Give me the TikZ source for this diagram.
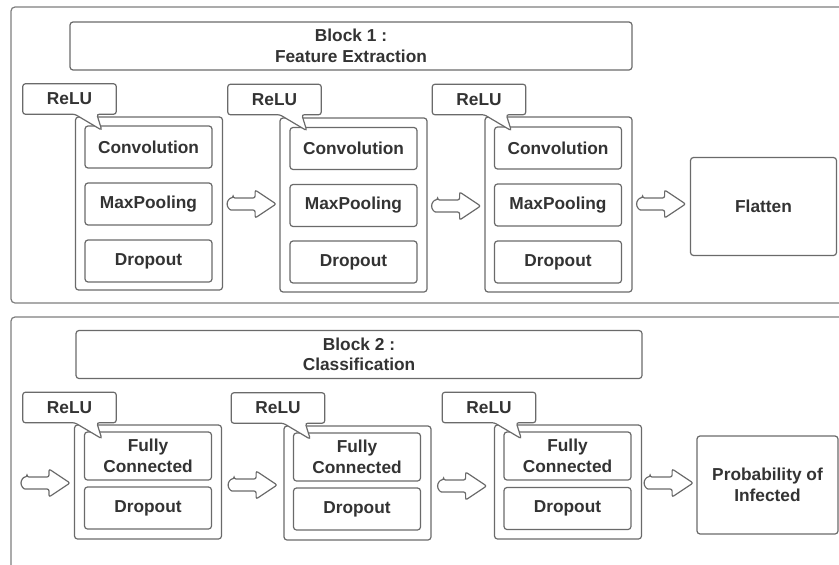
\documentclass[tikz,border=0pt]{standalone}
\usepackage{fontspec}
\setmainfont{Liberation Sans}
\usetikzlibrary{calc}
\definecolor{linegray}{HTML}{6A6A6A}
\definecolor{framegray}{HTML}{7E7E7E}
\definecolor{textgray}{HTML}{333333}
\tikzset{
  labelfont/.style={font=\fontsize{17.3}{20.5}\selectfont\bfseries, text=textgray},
  base/.style={draw=linegray, line width=1.2pt, rounded corners=3pt, fill=white,
    labelfont, align=center, inner sep=0pt},
  frame/.style={draw=framegray, line width=1.2pt, rounded corners=4pt},
  titlebox/.style={base, minimum width=#1, minimum height=48},
  layer/.style={base, minimum width=127, minimum height=42},
  fclayer/.style={base, minimum width=127, minimum height=48},
  stackbox/.style={base, minimum width=147},
  endbox/.style={base, minimum width=146, minimum height=98},
  relubox/.style={labelfont, minimum width=93, minimum height=30, inner sep=0pt},
  callout/.style={draw=linegray, line width=1.2pt, rounded corners=2.5pt, fill=white},
  barrow/.style={draw=linegray, line width=1.2pt, fill=white, rounded corners=2pt},
}
% ReLU speech bubble: box with a tail pointing down-right
\newcommand\relucallout[2]{%
  \node[relubox] (#1) at #2 {};
  \draw[callout] (#1.north west) -- (#1.north east) -- (#1.south east)
    -- ($(#1.south west)+(74,0)$) -- ($(#1.south west)+(79,16)$)
    -- ($(#1.south west)+(52,0)$) -- (#1.south west) -- cycle;
  \node[relubox] at (#1) {ReLU};
}
% hollow block arrow with a rounded tail, tail at (#1), total length 48
\newcommand\blockarrow[1]{%
  \draw[barrow] ($#1+(5,-6)$) -- ($#1+(27,-6)$) -- ($#1+(27,-14)$)
    -- ($#1+(48,0)$) -- ($#1+(27,14)$) -- ($#1+(27,6)$) -- ($#1+(5,6)$)
    arc[start angle=90, end angle=270, radius=6] -- cycle;
}
\begin{document}
\begin{tikzpicture}[x=1pt,y=-1pt]
\useasboundingbox (0,0) rectangle (839,565);
\clip (0,0) rectangle (839,565);
\fill[white] (0,0) rectangle (839,565);

% ---------- Block 1 ----------
\draw[frame] (11,7) rectangle (860,303);
\node[titlebox=562] (t1) at (351,46) {Block 1 :\\Feature Extraction};

\node[stackbox, minimum height=173] (s1) at (149,203.5) {};
\node[stackbox, minimum height=174] (s2) at (353.5,205) {};
\node[stackbox, minimum height=175] (s3) at (558.5,204.5) {};

\node[layer] (c1) at (148.5,147) {Convolution};
\node[layer] (m1) at (148.5,204) {MaxPooling};
\node[layer] (d1) at (148.5,261) {Dropout};
\node[layer] (c2) at (353.5,148.5) {Convolution};
\node[layer] (m2) at (353.5,205.5) {MaxPooling};
\node[layer] (d2) at (353.5,262) {Dropout};
\node[layer] (c3) at (558,148) {Convolution};
\node[layer] (m3) at (558,205) {MaxPooling};
\node[layer] (d3) at (558,262) {Dropout};

\node[endbox] (fl) at (763.5,206.5) {Flatten};

\relucallout{r1}{(69.5,99)}
\relucallout{r2}{(274.5,99.5)}
\relucallout{r3}{(479,99.5)}

\blockarrow{($(s1.east)+(5,0.5)$)}
\blockarrow{($(s2.east)+(5,1)$)}
\blockarrow{($(s3.east)+(5,-0.5)$)}

% ---------- Block 2 ----------
\draw[frame] (11,317) rectangle (860,600);
\node[titlebox=566] (t2) at (359,354.5) {Block 2 :\\Classification};

\node[stackbox, minimum height=114] (u1) at (148,482) {};
\node[stackbox, minimum height=114] (u2) at (357.5,483) {};
\node[stackbox, minimum height=114] (u3) at (568,482) {};

\node[fclayer] (f1) at (148,456) {Fully\\Connected};
\node[layer] (e1) at (148,508) {Dropout};
\node[fclayer] (f2) at (357,457) {Fully\\Connected};
\node[layer] (e2) at (357,509) {Dropout};
\node[fclayer] (f3) at (567.5,456) {Fully\\Connected};
\node[layer] (e3) at (567.5,508.5) {Dropout};

\node[endbox, minimum width=141] (pr) at (767.5,485) {Probability of\\Infected};

\relucallout{q1}{(69.5,407.5)}
\relucallout{q2}{(278,408)}
\relucallout{q3}{(489,407.5)}

\coordinate (in) at (22,483);
\blockarrow{(in)}
\blockarrow{($(u1.east)+(7,3)$)}
\blockarrow{($(u2.east)+(7,3)$)}
\blockarrow{($(u3.east)+(3,1)$)}
\end{tikzpicture}
\end{document}
